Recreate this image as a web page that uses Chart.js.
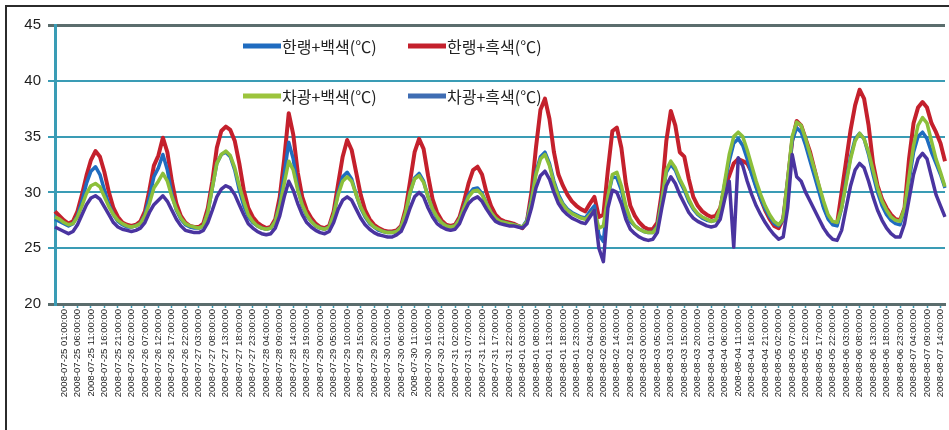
<!DOCTYPE html>
<html>
<head>
<meta charset="utf-8">
<script src="https://cdn.jsdelivr.net/npm/chart.js@4.4.1/dist/chart.umd.min.js"></script>
<style>
  html, body { margin: 0; padding: 0; background: #fff; }
  #wrap { position: relative; width: 949px; height: 430px; overflow: hidden; }
  #wrap canvas { position: absolute; left: 0; top: 0; }
  #frame { position: absolute; left: 5px; top: 5px; width: 960px; height: 440px;
           border-left: 2px solid #2b2b2b; border-top: 2px solid #2b2b2b; pointer-events: none; }
</style>
</head>
<body>
<div id="wrap">
  <canvas id="chart" width="949" height="430"></canvas>
  <div id="frame"></div>
</div>
<script>
// Time-axis tick labels (one every third reading)
const tickLabels = [
  '2008-07-25 01:00:00','2008-07-25 06:00:00','2008-07-25 11:00:00','2008-07-25 16:00:00','2008-07-25 21:00:00',
  '2008-07-26 02:00:00','2008-07-26 07:00:00','2008-07-26 12:00:00','2008-07-26 17:00:00','2008-07-26 22:00:00',
  '2008-07-27 03:00:00','2008-07-27 08:00:00','2008-07-27 13:00:00','2008-07-27 18:00:00','2008-07-27 23:00:00',
  '2008-07-28 04:00:00','2008-07-28 09:00:00','2008-07-28 14:00:00','2008-07-28 19:00:00',
  '2008-07-29 00:00:00','2008-07-29 05:00:00','2008-07-29 10:00:00','2008-07-29 15:00:00','2008-07-29 20:00:00',
  '2008-07-30 01:00:00','2008-07-30 06:00:00','2008-07-30 11:00:00','2008-07-30 16:00:00','2008-07-30 21:00:00',
  '2008-07-31 02:00:00','2008-07-31 07:00:00','2008-07-31 12:00:00','2008-07-31 17:00:00','2008-07-31 22:00:00',
  '2008-08-01 03:00:00','2008-08-01 08:00:00','2008-08-01 13:00:00','2008-08-01 18:00:00','2008-08-01 23:00:00',
  '2008-08-02 04:00:00','2008-08-02 09:00:00','2008-08-02 14:00:00','2008-08-02 19:00:00',
  '2008-08-03 00:00:00','2008-08-03 05:00:00','2008-08-03 10:00:00','2008-08-03 15:00:00','2008-08-03 20:00:00',
  '2008-08-04 01:00:00','2008-08-04 06:00:00','2008-08-04 11:00:00','2008-08-04 16:00:00','2008-08-04 21:00:00',
  '2008-08-05 02:00:00','2008-08-05 07:00:00','2008-08-05 12:00:00','2008-08-05 17:00:00','2008-08-05 22:00:00',
  '2008-08-06 03:00:00','2008-08-06 08:00:00','2008-08-06 13:00:00','2008-08-06 18:00:00','2008-08-06 23:00:00',
  '2008-08-07 04:00:00','2008-08-07 09:00:00','2008-08-07 14:00:00'
];

// 한랭+백색 (℃)
const coldWhite = [
  27.6,27.4,27.2,27.0,27.2,27.9,29.2,30.8,31.9,32.3,
  31.6,30.2,28.9,28.0,27.4,27.1,26.9,26.9,27.0,27.2,
  28.0,29.6,31.4,32.2,33.4,32.0,29.8,28.4,27.6,27.1,
  26.9,26.8,26.8,27.0,28.2,30.4,32.6,33.4,33.6,33.2,
  32.0,30.2,28.8,27.8,27.3,27.0,26.8,26.7,26.8,27.4,
  29.0,31.6,34.5,33.0,30.4,28.8,27.9,27.4,27.0,26.8,
  26.7,26.9,28.0,30.0,31.4,31.8,31.2,29.8,28.6,27.8,
  27.2,26.9,26.6,26.5,26.4,26.4,26.5,26.9,28.1,30.0,
  31.3,31.7,31.0,29.6,28.5,27.7,27.3,27.0,26.9,27.0,
  27.6,28.7,29.8,30.3,30.4,29.9,29.0,28.2,27.7,27.4,
  27.3,27.2,27.1,27.0,26.9,27.5,29.4,31.8,33.2,33.6,
  32.6,31.0,29.8,29.0,28.5,28.2,28.0,27.8,27.7,28.3,
  28.8,26.2,25.6,29.6,31.4,31.3,30.2,28.4,27.4,27.0,
  26.7,26.5,26.4,26.4,27.0,29.4,31.8,32.5,32.0,31.0,
  30.2,29.2,28.5,28.0,27.7,27.5,27.4,27.5,28.4,30.8,
  32.8,34.4,34.8,34.2,33.0,31.6,30.4,29.4,28.5,27.8,
  27.2,27.0,27.6,31.0,34.6,35.8,35.4,34.2,32.8,31.4,
  30.0,28.6,27.6,27.1,27.0,28.6,31.0,33.2,34.8,35.3,
  34.8,33.4,31.6,30.0,28.8,28.0,27.5,27.2,27.1,28.4,
  31.0,33.6,35.0,35.4,34.8,33.6,32.6,31.6,30.4
];

// 한랭+흑색 (℃)
const coldBlack = [
  28.3,27.9,27.5,27.2,27.4,28.3,29.8,31.5,32.9,33.7,
  33.2,31.8,30.0,28.6,27.8,27.3,27.1,27.0,27.1,27.4,
  28.3,30.2,32.4,33.3,34.9,33.6,31.0,29.0,27.9,27.3,
  27.0,26.9,26.9,27.2,28.6,31.0,34.0,35.5,35.9,35.6,
  34.6,32.6,30.2,28.6,27.8,27.3,27.0,26.8,26.9,27.6,
  29.6,33.0,37.1,35.2,31.8,29.6,28.4,27.7,27.2,26.9,
  26.8,27.0,28.3,30.8,33.2,34.7,33.8,31.8,29.8,28.4,
  27.6,27.1,26.8,26.6,26.5,26.5,26.6,27.0,28.5,31.0,
  33.6,34.8,33.9,31.5,29.4,28.2,27.5,27.1,27.0,27.1,
  27.8,29.2,30.8,32.0,32.3,31.6,30.0,28.8,28.0,27.6,
  27.4,27.3,27.2,27.0,26.8,27.4,30.0,34.0,37.4,38.4,
  36.6,33.6,31.6,30.6,29.8,29.2,28.8,28.5,28.3,29.0,
  29.6,27.8,28.0,32.0,35.5,35.8,34.0,30.8,28.8,27.9,
  27.3,26.9,26.7,26.7,27.3,30.0,34.6,37.3,36.0,33.6,
  33.2,31.2,29.6,28.8,28.3,28.0,27.8,27.9,28.6,30.5,
  31.5,32.6,33.0,32.8,32.6,31.8,30.6,29.4,28.4,27.6,
  27.0,26.8,27.6,31.0,34.6,36.4,36.0,34.8,33.6,32.0,
  30.4,28.8,27.8,27.3,27.2,30.0,32.8,35.6,37.8,39.2,
  38.4,36.0,32.6,30.6,29.4,28.6,28.0,27.6,27.5,28.6,
  33.0,36.2,37.6,38.1,37.6,36.2,35.4,34.4,32.8
];

// 차광+백색 (℃)
const shadeWhite = [
  27.8,27.6,27.3,27.1,27.2,27.8,28.8,29.9,30.6,30.8,
  30.5,29.6,28.7,28.0,27.5,27.2,27.0,26.9,27.0,27.2,
  27.9,29.0,30.4,31.0,31.7,31.0,29.6,28.5,27.7,27.2,
  27.0,26.9,26.8,27.0,28.2,30.4,32.6,33.4,33.7,33.3,
  32.2,30.6,29.2,28.0,27.4,27.0,26.8,26.7,26.8,27.4,
  28.8,30.8,32.8,32.0,30.2,28.9,28.0,27.4,27.0,26.8,
  26.7,26.9,28.0,29.8,31.0,31.4,31.0,29.8,28.7,27.9,
  27.3,26.9,26.7,26.5,26.4,26.4,26.5,26.9,28.2,30.0,
  31.2,31.5,30.9,29.6,28.5,27.8,27.3,27.0,26.9,27.0,
  27.6,28.6,29.6,30.1,30.2,29.8,29.0,28.2,27.7,27.4,
  27.3,27.2,27.1,27.0,26.9,27.4,29.2,31.6,33.0,33.4,
  32.4,30.8,29.6,28.9,28.4,28.1,27.9,27.7,27.6,28.0,
  28.4,26.8,27.0,29.6,31.6,31.8,30.6,28.8,27.6,27.0,
  26.7,26.5,26.4,26.4,26.9,29.2,32.0,32.8,32.2,31.2,
  30.4,29.4,28.6,28.1,27.8,27.6,27.4,27.5,28.6,31.0,
  33.4,35.0,35.4,35.0,33.8,32.4,31.0,29.8,28.8,28.0,
  27.4,27.1,27.6,31.2,35.0,36.3,36.0,34.8,33.4,32.0,
  30.6,29.2,28.0,27.4,27.3,28.6,30.8,33.0,34.6,35.3,
  34.8,33.6,32.0,30.4,29.2,28.4,27.8,27.5,27.4,28.6,
  31.4,34.2,36.0,36.7,36.2,34.6,33.0,31.8,30.5
];

// 차광+흑색 (℃)
const shadeBlack = [
  26.9,26.7,26.5,26.3,26.5,27.1,28.0,28.9,29.5,29.7,
  29.4,28.7,28.0,27.3,26.9,26.7,26.6,26.5,26.6,26.8,
  27.3,28.2,28.9,29.3,29.7,29.2,28.4,27.6,27.0,26.6,
  26.5,26.4,26.4,26.6,27.3,28.4,29.6,30.3,30.6,30.4,
  29.8,28.9,28.0,27.2,26.8,26.5,26.3,26.2,26.3,26.8,
  27.9,29.6,31.0,30.2,29.0,28.0,27.3,26.9,26.6,26.4,
  26.3,26.5,27.3,28.5,29.3,29.6,29.3,28.5,27.7,27.1,
  26.7,26.4,26.2,26.1,26.0,26.0,26.2,26.5,27.4,28.6,
  29.6,30.0,29.6,28.6,27.8,27.2,26.9,26.7,26.6,26.7,
  27.2,28.2,29.0,29.4,29.6,29.2,28.5,27.9,27.4,27.2,
  27.1,27.0,27.0,26.9,26.8,27.2,28.6,30.4,31.5,31.9,
  31.2,30.0,29.0,28.4,28.0,27.7,27.5,27.3,27.2,27.8,
  28.4,25.0,23.8,28.6,30.2,30.0,29.0,27.6,26.7,26.3,
  26.0,25.8,25.7,25.8,26.4,28.6,30.6,31.4,30.8,29.8,
  29.0,28.2,27.7,27.4,27.2,27.0,26.9,27.0,27.6,29.4,
  31.0,25.1,33.1,32.4,31.0,29.8,28.8,28.0,27.3,26.7,
  26.2,25.8,26.0,28.6,33.4,31.4,31.0,30.0,29.2,28.4,
  27.6,26.8,26.2,25.8,25.7,26.6,28.6,30.6,32.0,32.6,
  32.2,31.0,29.6,28.4,27.5,26.8,26.3,26.0,26.0,27.2,
  29.4,31.6,33.0,33.5,33.0,31.4,29.8,28.8,27.8
];

const seriesNames = ['한랭+백색(℃)', '한랭+흑색(℃)', '차광+백색(℃)', '차광+흑색(℃)'];

// Category for every reading; only every third one carries a visible label
const categories = coldBlack.map((_, i) => (i % 3 === 2 ? tickLabels[(i - 2) / 3] : ''));

const TEAL = '#3a9cb5';
const DARK = '#5b6d6d';

// Legend laid out as a 2x2 block inside the plot
const insetLegend = {
  id: 'insetLegend',
  afterDatasetsDraw(chart, args, opts) {
    const ctx = chart.ctx;
    ctx.save();
    ctx.font = opts.font;
    ctx.textBaseline = 'middle';
    ctx.textAlign = 'left';
    chart.data.datasets.forEach((ds, i) => {
      const p = opts.items[i];
      ctx.strokeStyle = ds.legendColor || ds.borderColor;
      ctx.lineWidth = 5;
      ctx.lineCap = 'butt';
      ctx.beginPath();
      ctx.moveTo(p.x, p.y);
      ctx.lineTo(p.x + opts.lineLength, p.y);
      ctx.stroke();
      ctx.fillStyle = opts.color;
      ctx.fillText(ds.label, p.x + opts.lineLength + 1, p.y + 1);
    });
    ctx.restore();
  }
};

const line = (label, data, color, width, order, legendColor) => ({
  label, data, borderColor: color, backgroundColor: color, legendColor,
  borderWidth: width, pointRadius: 0, tension: 0, fill: false,
  borderJoinStyle: 'round', order
});

new Chart(document.getElementById('chart'), {
  type: 'line',
  data: {
    labels: categories,
    datasets: [
      line(seriesNames[0], coldWhite, '#1f6cc0', 3.5, 2, '#1f6cc0'),
      line(seriesNames[1], coldBlack, '#c4202c', 4, 3, '#c4202c'),
      line(seriesNames[2], shadeWhite, '#8cbf3a', 3.5, 1, '#9cc43c'),
      line(seriesNames[3], shadeBlack, '#4a34a0', 3.5, 0, '#3f6db3')
    ]
  },
  options: {
    responsive: false,
    animation: false,
    devicePixelRatio: 1,
    layout: { padding: { top: 25, right: 4, bottom: 0, left: 0 } },
    plugins: {
      legend: { display: false },
      tooltip: { enabled: false },
      insetLegend: {
        font: '16px "Noto Sans CJK KR", "Noto Sans", sans-serif',
        color: '#222',
        lineLength: 38,
        items: [ { x: 243, y: 46 }, { x: 408, y: 46 }, { x: 243, y: 96 }, { x: 408, y: 96 } ]
      }
    },
    scales: {
      x: {
        type: 'category',
        offset: false,
        afterFit(scale) {
          scale.height = 126;
          scale.paddingLeft = 0;
          scale.paddingRight = 0;
        },
        border: { display: true, color: DARK, width: 3 },
        grid: {
          drawOnChartArea: false,
          drawTicks: true,
          tickLength: 4,
          tickWidth: 1.5,
          tickColor: (c) => (c.index % 3 === 2 ? TEAL : 'rgba(0,0,0,0)')
        },
        ticks: {
          autoSkip: false,
          minRotation: 90,
          maxRotation: 90,
          padding: 1,
          color: '#222',
          font: { family: '"Liberation Sans", Arial, sans-serif', size: 9.5 }
        }
      },
      y: {
        min: 20,
        max: 45,
        afterFit(scale) { scale.width = 55; },
        border: { display: true, color: TEAL, width: 3 },
        grid: {
          color: (c) => (c.tick && (c.tick.value === 45 || c.tick.value === 20) ? DARK : TEAL),
          lineWidth: (c) => (c.tick && (c.tick.value === 45 || c.tick.value === 20) ? 3 : 2),
          tickLength: 7,
          drawTicks: true
        },
        ticks: {
          stepSize: 5,
          padding: 7,
          color: '#1e1e1e',
          font: { family: '"Liberation Sans", Arial, sans-serif', size: 15 }
        }
      }
    }
  },
  plugins: [insetLegend]
});
</script>
</body>
</html>
